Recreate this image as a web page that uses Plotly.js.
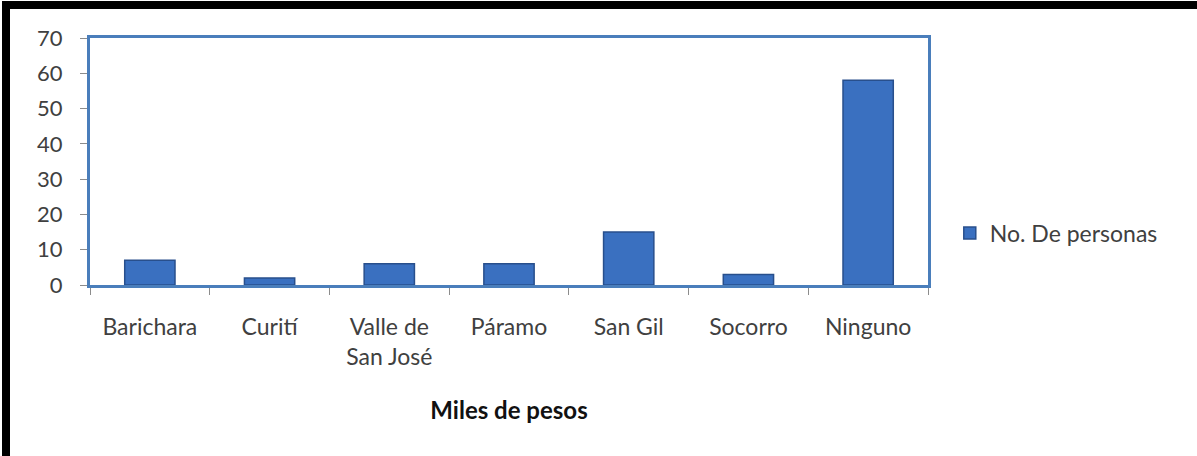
<!DOCTYPE html>
<html>
<head>
<meta charset="utf-8">
<script src="https://cdn.plot.ly/plotly-3.0.1.min.js"></script>
<style>
  html, body { margin: 0; padding: 0; background: #ffffff; }
  #wrap { position: relative; width: 1197px; height: 456px; overflow: hidden; }
  #chart { position: absolute; left: 0; top: 0; width: 1197px; height: 456px; }
  #frame { position: absolute; left: 2px; top: 1px; width: 1187px; height: 470px;
           border-left: 8px solid #000; border-top: 8px solid #000; border-right: 5px solid #000;
           pointer-events: none; }
</style>
</head>
<body>
<div id="wrap">
  <div id="chart"></div>
  <div id="frame"></div>
</div>
<script>
const categories = ["Barichara", "Curití", "Valle de<br>San José", "Páramo", "San Gil", "Socorro", "Ninguno"];
const personas = [7, 2, 6, 6, 15, 3, 58];
const seriesName = "No. De personas";
const xTitle = "Miles de pesos";
const yTicks = [0, 10, 20, 30, 40, 50, 60, 70];

const fontFam = "Lato, 'Open Sans', sans-serif";
const data = [{
  type: "bar",
  x: categories,
  y: personas,
  name: seriesName,
  showlegend: true,
  marker: { color: "#3A70C0", line: { color: "#284F8C", width: 1.5 } },
  hoverinfo: "x+y"
}];

const layout = {
  width: 1197, height: 456,
  paper_bgcolor: "#ffffff", plot_bgcolor: "#ffffff",
  margin: { l: 90, r: 269, t: 38, b: 171, autoexpand: false },
  bargap: 0.58,
  font: { family: fontFam, size: 23, color: "#404040" },
  xaxis: {
    type: "category",
    showline: true, mirror: true, linecolor: "#4A7EBB", linewidth: 3,
    ticks: "outside", tickson: "boundaries", ticklen: 7, tickcolor: "#8c8c8c", tickwidth: 1,
    ticklabelstandoff: 19,
    tickfont: { family: fontFam, size: 23, color: "#404040" },
    showgrid: false, zeroline: false, automargin: false,
    title: { text: "<b>" + xTitle + "</b>", standoff: 34, font: { family: fontFam, size: 24, color: "#111111" } }
  },
  yaxis: {
    range: [0, 70], tickvals: yTicks, ticktext: yTicks.map(String),
    showline: true, mirror: true, linecolor: "#4A7EBB", linewidth: 3,
    ticks: "outside", ticklen: 7, tickcolor: "#8c8c8c", tickwidth: 1,
    ticklabelstandoff: 13,
    tickfont: { family: fontFam, size: 22, color: "#404040" },
    showgrid: false, zeroline: false, automargin: false
  },
  legend: {
    x: 1.026, xanchor: "left", y: 0.21, yanchor: "middle",
    font: { family: fontFam, size: 23, color: "#404040" },
    bgcolor: "rgba(0,0,0,0)", itemwidth: 30
  },
  showlegend: true
};

Plotly.newPlot("chart", data, layout, { displayModeBar: false, staticPlot: true });
</script>
</body>
</html>
